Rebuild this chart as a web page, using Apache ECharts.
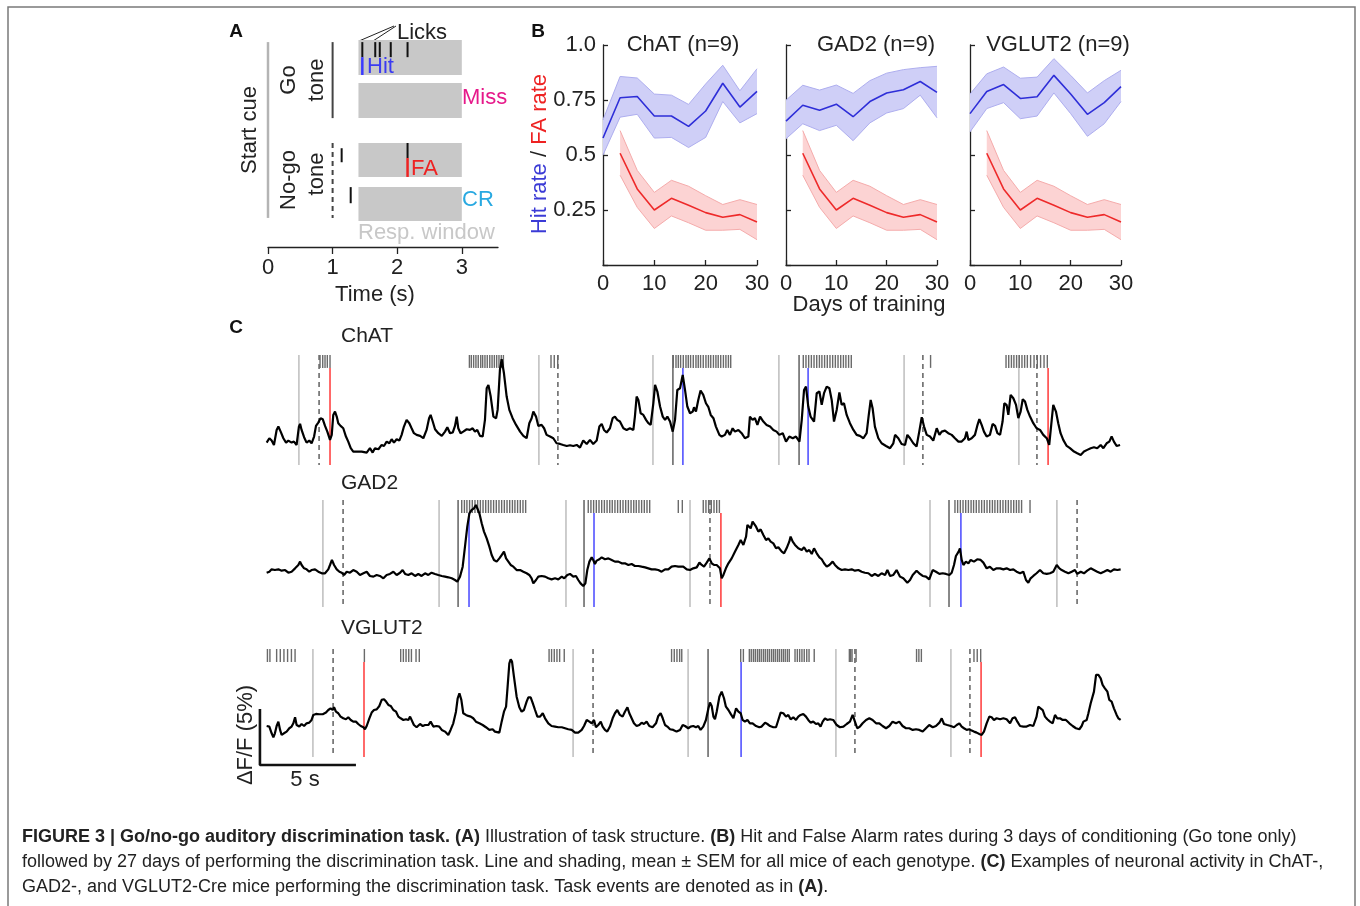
<!DOCTYPE html>
<html>
<head>
<meta charset="utf-8">
<title>Figure 3 - Go/no-go task</title>
<script src="https://cdn.jsdelivr.net/npm/echarts@6.0.0/dist/echarts.min.js"></script>
<style>
  html, body { margin: 0; padding: 0; background: #fff; }
  #fig { width: 1360px; height: 906px; }
</style>
</head>
<body>
<div id="fig"></div>
<script>
// ---------- panel A : task structure (time in s, rows in trial units) ----------
var respWindow = [1.4, 3.0];
var trialRows = [[0, 1], [1.23, 2.23], [2.94, 3.91], [4.2, 5.17]];
var aToneTime = 1.0;
var aLickTimes = [1.46, 1.66, 1.73, 1.90, 2.16];
var aHitTime = 1.46;
var aFaTime = 2.16;
var aNogoEarlyLick = 1.14;
var aCrEarlyLick = 1.28;
var aTicks = [0, 1, 2, 3];

// ---------- panel B : hit / FA rates ----------
var days = [0, 3.33, 6.67, 10, 13.33, 16.67, 20, 23.33, 26.67, 30];
var faDays = [3.33, 6.67, 10, 13.33, 16.67, 20, 23.33, 26.67, 30];

var chatHitRate = [0.577, 0.76, 0.766, 0.677, 0.677, 0.63, 0.70, 0.826, 0.718, 0.789];
var chatHitHi   = [0.66, 0.857, 0.85, 0.777, 0.772, 0.73, 0.823, 0.908, 0.792, 0.892];
var chatHitLo   = [0.50, 0.672, 0.685, 0.577, 0.58, 0.534, 0.58, 0.743, 0.646, 0.688];
var chatFaRate  = [0.508, 0.346, 0.25, 0.303, 0.272, 0.238, 0.217, 0.229, 0.195];
var chatFaHi    = [0.611, 0.43, 0.33, 0.385, 0.358, 0.315, 0.275, 0.297, 0.275];
var chatFaLo    = [0.408, 0.262, 0.166, 0.223, 0.192, 0.158, 0.158, 0.162, 0.115];

var gad2HitRate = [0.654, 0.726, 0.703, 0.731, 0.674, 0.743, 0.782, 0.797, 0.834, 0.785];
var gad2HitHi   = [0.749, 0.817, 0.795, 0.818, 0.78, 0.838, 0.872, 0.888, 0.897, 0.903];
var gad2HitLo   = [0.574, 0.642, 0.611, 0.635, 0.565, 0.646, 0.691, 0.711, 0.772, 0.669];
var gad2FaRate  = [0.508, 0.346, 0.25, 0.303, 0.272, 0.238, 0.217, 0.229, 0.195];
var gad2FaHi    = [0.611, 0.43, 0.33, 0.385, 0.358, 0.315, 0.275, 0.297, 0.275];
var gad2FaLo    = [0.408, 0.262, 0.166, 0.223, 0.192, 0.158, 0.158, 0.162, 0.115];

var vglutHitRate = [0.688, 0.789, 0.82, 0.757, 0.765, 0.862, 0.777, 0.685, 0.738, 0.811];
var vglutHitHi   = [0.777, 0.869, 0.9, 0.849, 0.854, 0.938, 0.862, 0.782, 0.838, 0.885];
var vglutHitLo   = [0.605, 0.711, 0.738, 0.665, 0.677, 0.782, 0.688, 0.585, 0.642, 0.743];
var vglutFaRate  = [0.508, 0.346, 0.25, 0.303, 0.272, 0.238, 0.217, 0.229, 0.195];
var vglutFaHi    = [0.611, 0.43, 0.33, 0.385, 0.358, 0.315, 0.275, 0.297, 0.275];
var vglutFaLo    = [0.408, 0.262, 0.166, 0.223, 0.192, 0.158, 0.158, 0.162, 0.115];

// ---------- panel C : example traces, [time s, dF/F %] ----------
var chatTrace = [[-0.07,0.95],[0.07,1.34],[0.19,1.13],[0.31,0.74],[0.45,2.08],[0.54,2.38],[0.66,1.93],[0.80,1.34],[0.94,0.95],[1.06,1.13],[1.23,0.95],[1.35,1.04],[1.49,0.74],[1.61,2.38],[1.67,2.62],[1.75,2.08],[1.88,1.43],[2.01,0.95],[2.15,1.13],[2.27,0.89],[2.40,1.49],[2.50,2.44],[2.62,2.74],[2.74,3.13],[2.85,3.04],[2.97,2.44],[3.09,1.93],[3.23,1.19],[3.32,1.64],[3.40,3.42],[3.49,3.72],[3.58,3.27],[3.66,2.68],[3.78,2.44],[3.92,2.23],[4.06,1.49],[4.18,1.04],[4.31,0.45],[4.44,0.15],[4.62,0.15],[4.88,0.15],[5.14,0.06],[5.31,0.45],[5.45,0.06],[5.57,0.45],[5.75,0.36],[5.92,0.74],[6.04,0.65],[6.18,1.04],[6.32,0.89],[6.44,1.25],[6.56,0.95],[6.70,1.25],[6.84,1.13],[6.96,1.64],[7.08,2.38],[7.22,2.98],[7.36,2.68],[7.48,2.23],[7.60,1.79],[7.74,1.64],[7.92,1.55],[8.09,1.34],[8.26,2.08],[8.39,3.13],[8.47,3.42],[8.58,2.83],[8.70,2.14],[8.87,1.79],[9.05,1.55],[9.22,1.93],[9.34,2.32],[9.48,1.79],[9.62,1.85],[9.74,2.44],[9.83,3.27],[9.91,2.23],[10.03,1.79],[10.17,1.93],[10.35,2.14],[10.52,2.08],[10.66,2.23],[10.78,1.93],[10.90,2.08],[11.04,1.55],[11.18,1.49],[11.30,2.98],[11.39,5.80],[11.48,6.10],[11.60,5.06],[11.74,3.27],[11.88,3.13],[11.96,3.87],[12.08,7.44],[12.17,8.39],[12.29,7.14],[12.43,5.06],[12.57,3.87],[12.74,3.13],[12.92,2.53],[13.13,1.93],[13.30,1.55],[13.47,1.34],[13.61,2.68],[13.73,3.13],[13.82,3.72],[13.96,3.27],[14.08,2.44],[14.25,2.53],[14.38,2.23],[14.51,1.64],[14.69,1.49],[14.86,1.34],[15.03,0.89],[15.21,0.83],[15.38,0.74],[15.56,0.65],[15.73,0.71],[15.90,0.65],[16.08,0.74],[16.25,0.51],[16.42,1.13],[16.60,0.83],[16.77,1.19],[16.94,0.83],[17.12,1.13],[17.26,2.38],[17.38,2.62],[17.50,2.08],[17.64,1.85],[17.81,2.23],[17.95,3.13],[18.07,3.27],[18.19,2.98],[18.33,2.83],[18.51,2.23],[18.68,2.08],[18.85,2.23],[19.03,2.08],[19.11,3.27],[19.20,5.06],[19.29,4.76],[19.41,3.57],[19.55,3.42],[19.69,2.98],[19.81,2.68],[19.93,2.53],[20.07,4.46],[20.16,6.10],[20.28,5.51],[20.42,4.17],[20.56,3.27],[20.68,2.98],[20.80,3.27],[20.94,2.83],[21.08,1.93],[21.20,2.98],[21.32,5.65],[21.46,5.80],[21.60,6.99],[21.72,5.65],[21.84,4.17],[21.98,3.57],[22.12,3.72],[22.19,4.11],[22.29,3.72],[22.41,4.76],[22.53,5.60],[22.67,5.21],[22.81,4.46],[22.94,4.11],[23.06,3.42],[23.20,3.13],[23.33,2.38],[23.51,1.64],[23.63,1.49],[23.80,1.64],[23.92,2.08],[24.06,1.64],[24.20,2.23],[24.32,1.93],[24.50,2.08],[24.67,1.79],[24.84,1.34],[25.02,1.49],[25.10,3.27],[25.24,2.98],[25.36,3.13],[25.49,2.53],[25.63,3.27],[25.80,2.83],[25.97,2.53],[26.15,2.38],[26.32,2.08],[26.49,1.93],[26.63,1.64],[26.81,1.79],[26.98,1.04],[27.15,1.49],[27.33,1.34],[27.50,1.49],[27.68,1.04],[27.80,2.98],[27.92,5.65],[28.02,5.95],[28.14,4.17],[28.26,3.27],[28.44,2.83],[28.58,5.36],[28.72,5.51],[28.84,4.32],[28.96,5.36],[29.10,5.95],[29.24,5.80],[29.36,4.76],[29.48,2.83],[29.62,3.87],[29.76,5.42],[29.88,4.32],[30.00,4.46],[30.14,3.42],[30.31,2.68],[30.49,2.08],[30.66,1.64],[30.83,1.55],[31.01,1.34],[31.18,1.79],[31.28,3.27],[31.39,4.76],[31.49,4.02],[31.61,2.38],[31.79,1.34],[31.96,0.89],[32.19,0.65],[32.40,0.45],[32.57,0.89],[32.66,1.64],[32.83,1.34],[33.00,0.83],[33.18,0.74],[33.30,1.64],[33.44,1.34],[33.61,0.89],[33.78,0.60],[33.92,1.93],[34.05,3.21],[34.17,2.38],[34.31,1.64],[34.48,1.49],[34.65,1.13],[34.83,2.23],[34.97,1.64],[35.09,1.93],[35.26,2.02],[35.43,1.79],[35.61,1.64],[35.78,1.34],[35.96,1.04],[36.13,1.04],[36.30,1.34],[36.39,1.93],[36.48,1.19],[36.65,1.34],[36.82,1.64],[36.94,2.44],[37.05,3.04],[37.17,2.53],[37.29,1.93],[37.43,1.49],[37.60,1.64],[37.74,2.62],[37.87,2.44],[37.99,1.79],[38.13,1.64],[38.26,2.83],[38.35,4.46],[38.47,4.32],[38.56,3.42],[38.68,5.21],[38.82,4.91],[38.96,4.32],[39.08,3.13],[39.20,3.72],[39.31,4.82],[39.43,4.61],[39.55,3.87],[39.69,3.27],[39.86,2.68],[40.03,2.23],[40.21,2.08],[40.38,1.64],[40.56,1.34],[40.69,0.74],[40.82,2.98],[40.90,4.32],[41.04,3.72],[41.16,2.68],[41.28,1.79],[41.42,1.19],[41.60,0.65],[41.77,0.45],[41.98,0.15],[42.15,0.00],[42.33,-0.15],[42.50,0.15],[42.67,0.30],[42.85,0.45],[43.02,0.54],[43.19,0.45],[43.37,0.74],[43.51,0.45],[43.68,0.89],[43.82,1.04],[43.94,1.49],[44.06,1.04],[44.20,0.65],[44.38,0.74]];

var gad2Trace = [[-0.07,0.65],[0.07,0.74],[0.19,0.95],[0.36,0.89],[0.54,0.95],[0.71,0.83],[0.89,0.89],[1.06,0.65],[1.23,0.74],[1.41,1.04],[1.58,1.34],[1.67,1.64],[1.75,1.34],[1.88,1.04],[2.01,0.95],[2.15,0.74],[2.27,0.89],[2.45,0.95],[2.62,0.74],[2.80,0.60],[2.97,0.60],[3.14,0.95],[3.23,1.34],[3.33,1.79],[3.44,1.34],[3.58,0.95],[3.72,0.74],[3.84,0.65],[3.96,0.45],[4.10,0.74],[4.27,0.65],[4.44,0.89],[4.62,0.74],[4.79,0.45],[4.97,0.60],[5.14,0.74],[5.31,0.36],[5.49,0.30],[5.66,0.45],[5.83,0.36],[6.01,0.15],[6.18,0.45],[6.35,0.54],[6.53,0.74],[6.70,0.45],[6.88,0.65],[7.01,0.89],[7.14,0.54],[7.31,0.45],[7.48,0.60],[7.66,0.36],[7.83,0.54],[8.00,0.36],[8.18,0.60],[8.35,0.45],[8.52,0.65],[8.70,0.54],[8.87,0.45],[9.05,0.36],[9.22,0.30],[9.39,0.24],[9.57,0.15],[9.74,0.00],[9.86,-0.15],[10.00,0.30],[10.14,1.19],[10.26,2.98],[10.38,4.76],[10.49,5.95],[10.61,6.25],[10.73,6.40],[10.83,6.70],[10.90,6.40],[11.01,5.95],[11.13,5.06],[11.25,4.32],[11.39,3.72],[11.53,2.98],[11.65,2.23],[11.77,1.79],[11.91,1.64],[12.05,1.93],[12.17,2.23],[12.29,2.53],[12.40,1.93],[12.52,1.64],[12.64,1.34],[12.78,1.19],[12.95,0.89],[13.13,0.89],[13.30,0.74],[13.47,0.60],[13.61,0.45],[13.73,0.15],[13.82,-0.30],[13.96,0.00],[14.08,0.30],[14.25,0.36],[14.43,0.30],[14.60,0.15],[14.77,0.06],[14.95,0.15],[15.12,0.06],[15.30,0.30],[15.43,0.15],[15.59,0.45],[15.73,0.54],[15.90,0.30],[16.04,0.36],[16.16,0.00],[16.28,-0.30],[16.42,-0.54],[16.53,-0.30],[16.63,0.89],[16.74,1.64],[16.86,2.02],[16.94,1.79],[17.03,1.43],[17.12,1.73],[17.26,1.85],[17.38,2.02],[17.55,1.85],[17.73,1.93],[17.90,1.79],[18.07,1.64],[18.25,1.64],[18.42,1.49],[18.59,1.49],[18.77,1.34],[18.94,1.43],[19.11,1.25],[19.29,1.25],[19.46,1.19],[19.64,1.13],[19.81,1.04],[19.98,0.95],[20.16,0.95],[20.33,0.89],[20.50,0.74],[20.68,0.95],[20.85,0.95],[21.02,1.19],[21.20,1.25],[21.37,1.19],[21.46,1.13],[21.63,1.19],[21.81,0.95],[21.98,0.89],[22.15,1.04],[22.33,1.13],[22.47,1.55],[22.59,1.34],[22.71,1.19],[22.85,1.55],[22.99,1.93],[23.11,1.49],[23.23,1.34],[23.37,1.34],[23.54,1.04],[23.63,0.15],[23.72,0.45],[23.85,1.04],[23.98,1.49],[24.15,1.93],[24.32,2.53],[24.50,3.13],[24.62,3.57],[24.76,3.13],[24.90,3.87],[24.97,4.91],[25.07,5.06],[25.14,4.61],[25.24,5.21],[25.31,5.36],[25.42,4.76],[25.54,4.32],[25.66,4.52],[25.80,4.02],[25.94,3.57],[26.06,3.72],[26.18,3.42],[26.32,3.27],[26.46,2.83],[26.58,2.92],[26.76,2.53],[26.88,2.38],[27.01,2.83],[27.15,3.42],[27.22,3.87],[27.33,3.42],[27.45,3.13],[27.62,2.83],[27.80,2.68],[27.92,2.92],[28.06,2.53],[28.19,2.68],[28.32,2.32],[28.44,2.83],[28.58,2.38],[28.72,2.02],[28.84,1.85],[28.96,1.49],[29.10,1.19],[29.24,1.34],[29.41,1.64],[29.53,1.34],[29.71,1.04],[29.88,0.89],[30.05,0.95],[30.23,0.89],[30.40,0.95],[30.57,0.83],[30.75,0.89],[30.92,0.74],[31.09,0.65],[31.27,0.60],[31.44,0.36],[31.61,0.54],[31.79,0.36],[31.96,0.60],[32.14,0.45],[32.26,0.89],[32.40,0.36],[32.57,0.45],[32.74,0.89],[32.92,0.30],[33.09,0.15],[33.30,-0.24],[33.44,0.00],[33.58,0.45],[33.78,0.83],[33.92,0.60],[34.10,0.36],[34.27,0.30],[34.44,0.06],[34.62,0.89],[34.79,0.74],[34.97,0.54],[35.14,0.60],[35.31,0.54],[35.49,0.45],[35.61,0.65],[35.73,1.34],[35.83,2.14],[35.97,2.53],[36.04,2.83],[36.13,1.79],[36.22,1.34],[36.35,1.64],[36.48,1.49],[36.60,1.79],[36.77,1.64],[36.94,1.85],[37.12,1.79],[37.26,1.55],[37.43,1.04],[37.60,1.19],[37.78,0.89],[37.95,1.04],[38.13,1.04],[38.30,0.95],[38.47,1.04],[38.65,0.89],[38.82,0.95],[38.99,0.74],[39.17,0.60],[39.34,0.74],[39.48,0.00],[39.60,-0.24],[39.72,0.15],[39.86,0.36],[40.03,0.60],[40.21,0.89],[40.38,0.60],[40.56,0.54],[40.73,0.60],[40.90,0.74],[41.08,1.34],[41.22,1.04],[41.34,0.89],[41.51,0.74],[41.69,0.60],[41.86,0.74],[42.03,0.89],[42.15,0.54],[42.33,0.74],[42.50,0.60],[42.67,0.83],[42.85,1.04],[43.02,0.89],[43.19,0.74],[43.37,0.60],[43.54,0.74],[43.72,0.89],[43.89,0.74],[44.06,0.95],[44.24,0.89],[44.41,0.95]];

var vglutTrace = [[-0.07,0.65],[0.07,0.60],[0.19,0.00],[0.28,-0.36],[0.36,0.00],[0.45,0.65],[0.54,1.04],[0.63,0.30],[0.71,-0.15],[0.83,0.00],[0.97,0.15],[1.11,0.45],[1.23,0.60],[1.32,0.89],[1.41,1.43],[1.49,0.74],[1.63,0.60],[1.75,0.83],[1.88,0.65],[2.01,0.89],[2.15,0.95],[2.27,1.19],[2.36,1.64],[2.50,1.73],[2.67,1.70],[2.85,1.70],[3.02,1.85],[3.14,2.08],[3.26,2.23],[3.37,2.08],[3.44,2.32],[3.54,1.93],[3.66,1.79],[3.78,1.49],[3.92,1.34],[4.06,1.25],[4.18,1.43],[4.31,1.19],[4.44,1.04],[4.58,1.04],[4.70,0.83],[4.83,0.65],[4.97,0.54],[5.05,0.36],[5.14,0.65],[5.28,1.34],[5.40,1.85],[5.52,2.08],[5.66,2.14],[5.80,2.44],[5.92,2.98],[6.04,3.04],[6.15,2.83],[6.27,2.53],[6.39,2.44],[6.53,2.08],[6.67,1.93],[6.79,1.49],[6.91,1.34],[7.05,1.19],[7.19,1.25],[7.31,1.19],[7.40,1.49],[7.48,1.34],[7.60,0.74],[7.74,0.54],[7.92,0.83],[8.06,0.65],[8.18,0.74],[8.35,0.74],[8.47,1.04],[8.61,0.60],[8.78,0.65],[8.92,0.60],[9.05,0.30],[9.22,0.15],[9.39,-0.15],[9.51,0.30],[9.65,0.89],[9.79,1.93],[9.88,3.13],[9.97,3.57],[10.07,2.98],[10.17,1.79],[10.31,1.64],[10.43,1.55],[10.56,1.49],[10.69,1.34],[10.83,1.04],[11.01,0.89],[11.18,0.74],[11.35,0.54],[11.53,0.30],[11.70,0.36],[11.82,0.15],[12.05,0.06],[12.17,1.04],[12.29,1.93],[12.40,2.38],[12.48,4.17],[12.57,6.25],[12.64,6.61],[12.71,6.40],[12.81,5.06],[12.95,3.27],[13.09,2.32],[13.21,1.93],[13.33,2.08],[13.47,2.83],[13.56,3.21],[13.68,3.21],[13.78,2.74],[13.91,2.08],[14.03,1.49],[14.17,1.49],[14.31,1.79],[14.43,1.34],[14.60,0.89],[14.77,0.65],[14.95,0.60],[15.12,0.54],[15.30,0.54],[15.47,0.45],[15.64,0.36],[15.82,0.30],[15.99,0.06],[16.16,0.06],[16.34,0.30],[16.46,0.65],[16.60,1.19],[16.74,1.04],[16.86,0.89],[16.98,1.19],[17.08,0.54],[17.20,0.74],[17.33,1.04],[17.43,0.60],[17.55,0.30],[17.67,0.15],[17.81,0.60],[17.95,1.34],[18.07,1.79],[18.19,2.08],[18.33,1.64],[18.47,1.49],[18.59,1.93],[18.72,2.32],[18.82,1.79],[18.94,1.34],[19.06,0.89],[19.20,0.65],[19.34,0.74],[19.46,0.95],[19.58,0.83],[19.72,1.04],[19.86,0.65],[20.03,0.54],[20.21,0.89],[20.33,1.55],[20.45,1.79],[20.56,1.34],[20.68,0.74],[20.80,0.60],[20.94,0.36],[21.11,0.30],[21.28,0.15],[21.46,0.30],[21.60,0.74],[21.72,0.65],[21.89,0.45],[22.01,0.60],[22.15,0.65],[22.29,0.54],[22.41,0.65],[22.53,0.30],[22.67,0.60],[22.81,1.19],[22.94,2.23],[23.02,2.74],[23.11,2.44],[23.20,1.49],[23.28,1.25],[23.37,1.93],[23.51,3.27],[23.63,3.72],[23.75,3.13],[23.85,2.38],[23.98,2.08],[24.10,1.73],[24.24,1.34],[24.38,2.23],[24.50,1.93],[24.62,1.79],[24.72,1.19],[24.84,1.04],[24.97,1.19],[25.10,0.89],[25.24,0.89],[25.42,0.65],[25.59,0.54],[25.71,0.60],[25.89,0.95],[26.01,0.83],[26.15,0.65],[26.32,0.54],[26.46,0.54],[26.58,1.19],[26.70,1.85],[26.84,1.79],[26.98,1.49],[27.10,1.64],[27.22,1.25],[27.36,1.43],[27.50,1.19],[27.62,1.49],[27.74,1.64],[27.88,1.73],[28.02,1.49],[28.14,1.19],[28.26,0.95],[28.40,1.04],[28.54,0.83],[28.66,0.89],[28.78,0.60],[28.89,1.04],[29.01,1.34],[29.13,1.19],[29.27,1.25],[29.44,1.19],[29.62,0.74],[29.79,0.54],[29.97,0.60],[30.14,0.83],[30.31,1.04],[30.45,1.64],[30.57,1.04],[30.69,0.45],[30.83,0.60],[30.97,0.89],[31.15,1.19],[31.32,1.34],[31.49,1.19],[31.67,0.89],[31.84,0.89],[32.01,0.65],[32.19,0.45],[32.36,0.65],[32.53,1.04],[32.71,0.89],[32.88,1.04],[33.05,0.65],[33.23,0.45],[33.40,0.45],[33.58,0.30],[33.75,0.36],[33.92,0.30],[34.10,0.15],[34.27,0.45],[34.44,0.74],[34.62,0.54],[34.79,0.65],[34.97,0.95],[35.09,1.34],[35.21,0.83],[35.38,0.74],[35.56,0.65],[35.73,0.54],[35.87,0.74],[36.01,0.89],[36.13,0.60],[36.25,0.45],[36.39,0.30],[36.53,0.36],[36.65,0.24],[36.77,0.15],[36.91,0.06],[37.05,-0.06],[37.17,-0.15],[37.29,0.15],[37.43,0.89],[37.57,1.49],[37.69,1.43],[37.81,1.19],[37.95,1.34],[38.13,1.25],[38.30,1.34],[38.47,1.25],[38.65,0.89],[38.78,1.34],[38.91,1.43],[39.03,1.04],[39.17,0.65],[39.34,0.60],[39.51,0.60],[39.69,0.74],[39.86,0.65],[40.03,1.49],[40.12,2.38],[40.21,2.53],[40.35,2.08],[40.47,1.49],[40.59,1.25],[40.73,1.04],[40.87,0.89],[40.99,1.64],[41.11,1.34],[41.25,1.34],[41.39,1.19],[41.56,1.19],[41.74,0.89],[41.91,0.65],[42.08,0.45],[42.26,0.36],[42.38,0.65],[42.47,1.04],[42.55,1.19],[42.64,1.19],[42.73,1.79],[42.85,2.68],[42.95,2.83],[43.02,3.72],[43.13,5.21],[43.25,5.21],[43.37,4.91],[43.47,4.32],[43.59,4.02],[43.72,3.72],[43.82,2.98],[43.94,2.83],[44.06,2.23],[44.20,1.64],[44.29,1.34],[44.41,1.19]];

// task events (s)
var chatCue = [1.61, 14.11, 20.05, 26.61, 33.13, 39.11];
var chatGo = [21.09, 27.66];
var chatNogo = [2.66, 15.10, 34.11, 40.05];
var chatHitEv = [21.61, 28.13];
var chatFaEv = [3.23, 40.63];
var chatLicks = [2.71, 2.85, 2.97, 3.09, 3.23,
  10.49, 10.59, 10.71, 10.83, 10.95, 11.08, 11.18, 11.30, 11.42, 11.55, 11.67, 11.79, 11.91, 12.03, 12.15, 12.26,
  14.74, 14.91, 15.09,
  21.11, 21.25, 21.37, 21.49, 21.63, 21.77, 21.89, 22.01, 22.15, 22.29, 22.41, 22.53, 22.67, 22.81, 22.94, 23.06, 23.20, 23.33, 23.45, 23.58, 23.72, 23.85, 23.98, 24.10,
  27.88, 28.02, 28.16, 28.30, 28.44, 28.58, 28.72, 28.85, 28.99, 29.13, 29.27, 29.41, 29.55, 29.69, 29.83, 29.97, 30.10, 30.24, 30.38,
  34.51,
  38.44, 38.58, 38.72, 38.85, 38.99, 39.13, 39.27, 39.41, 39.55, 39.72, 39.90, 40.07, 40.24, 40.42, 40.59];

var gad2Cue = [2.86, 8.91, 15.52, 21.98, 34.48, 41.09];
var gad2Go = [9.90, 16.46, 35.47];
var gad2Nogo = [3.91, 23.02, 42.14];
var gad2HitEv = [10.47, 16.98, 36.09];
var gad2FaEv = [23.59];
var gad2Licks = [10.09, 10.23, 10.36, 10.50, 10.64, 10.78, 10.92, 11.06, 11.20, 11.34, 11.48, 11.61, 11.75, 11.89, 12.03, 12.17, 12.31, 12.45, 12.59, 12.73, 12.86, 13.00, 13.14, 13.28, 13.42,
  16.68, 16.82, 16.96, 17.10, 17.24, 17.38, 17.52, 17.66, 17.80, 17.93, 18.07, 18.21, 18.35, 18.49, 18.63, 18.77, 18.91, 19.05, 19.18, 19.32, 19.46, 19.60, 19.74, 19.88,
  21.37, 21.58,
  22.67, 22.81, 22.95, 23.09, 23.23, 23.37, 23.51,
  35.78, 35.92, 36.06, 36.20, 36.34, 36.48, 36.62, 36.75, 36.89, 37.03, 37.17, 37.31, 37.45, 37.59, 37.73, 37.86, 38.00, 38.14, 38.28, 38.42, 38.56, 38.70, 38.84, 38.98, 39.11, 39.25, 39.69];

var vglutCue = [2.34, 15.89, 21.88, 29.58, 35.57];
var vglutGo = [22.92];
var vglutNogo = [3.39, 16.93, 30.57, 36.56];
var vglutHitEv = [24.64];
var vglutFaEv = [5.00, 37.14];
var vglutLicks = [-0.03, 0.10, 0.45, 0.64, 0.83, 1.02, 1.22, 1.41,
  5.02,
  6.91, 7.05, 7.19, 7.33, 7.47, 7.71, 7.88,
  14.64, 14.77, 14.91, 15.05, 15.19, 15.43,
  21.02, 21.16, 21.30, 21.44, 21.55,
  24.62, 24.76, 25.07, 25.17, 25.28, 25.38, 25.49, 25.59, 25.69, 25.80, 25.90, 26.01, 26.11, 26.22, 26.32, 26.42, 26.53, 26.63, 26.74, 26.84, 26.94, 27.05, 27.15, 27.45, 27.57, 27.69, 27.81, 27.93, 28.06, 28.18, 28.45,
  30.28, 30.35, 30.42, 30.63,
  33.78, 33.90, 34.03,
  36.77, 36.94, 37.12];

var scaleSec = 5;
var scalePct = 5;

// ---------------------------------------------------------------
var FF = '"Liberation Sans", Arial, Helvetica, sans-serif';
var fig = echarts.init(document.getElementById('fig'));

var grids = [], xAxes = [], yAxes = [], series = [];

function segs(gi, data, stroke, width, dash) {
  return {
    type: 'custom', xAxisIndex: gi, yAxisIndex: gi, silent: true, clip: false,
    data: data, encode: { x: [0, 2], y: [1, 3] },
    renderItem: function (params, api) {
      var a = api.coord([api.value(0), api.value(1)]);
      var b = api.coord([api.value(2), api.value(3)]);
      return { type: 'line', shape: { x1: a[0], y1: a[1], x2: b[0], y2: b[1] },
        style: { stroke: stroke, lineWidth: width, lineDash: dash || null } };
    }
  };
}

function rects(gi, data, fill) {
  return {
    type: 'custom', xAxisIndex: gi, yAxisIndex: gi, silent: true, clip: false,
    data: data, encode: { x: [0, 2], y: [1, 3] },
    renderItem: function (params, api) {
      var a = api.coord([api.value(0), api.value(1)]);
      var b = api.coord([api.value(2), api.value(3)]);
      return { type: 'rect', shape: { x: a[0], y: Math.min(a[1], b[1]), width: b[0] - a[0], height: Math.abs(b[1] - a[1]) },
        style: { fill: fill } };
    }
  };
}

function vlines(times, top, bottom) {
  return times.map(function (t) { return [t, top, t, bottom]; });
}

// ---- panel A grid ----
grids.push({ left: 268, top: 40, width: 230, height: 207 });
xAxes.push({ gridIndex: 0, type: 'value', min: 0, max: 3.56, interval: 1,
  axisLine: { onZero: false, lineStyle: { color: '#222', width: 1.3 } },
  axisTick: { length: 7, customValues: aTicks, lineStyle: { color: '#222', width: 1.3 } },
  axisLabel: { fontSize: 22, color: '#222', fontFamily: FF, margin: 10, customValues: aTicks },
  splitLine: { show: false } });
yAxes.push({ gridIndex: 0, type: 'value', min: 0, max: 5.91, inverse: true, show: false });

series.push(rects(0, trialRows.map(function (r) { return [respWindow[0], r[0], respWindow[1], r[1]]; }), '#c8c8c8'));
series.push(segs(0, [[0, 0.06, 0, 5.08]], '#b4b4b4', 2.5));
series.push(segs(0, [[aToneTime, 0.06, aToneTime, trialRows[1][1]]], '#444', 2));
series.push(segs(0, [[aToneTime, trialRows[2][0], aToneTime, 5.08]], '#444', 2, [5, 4]));
series.push(segs(0, aLickTimes.map(function (t) { return [t, 0.06, t, 0.49]; })
  .concat([[aFaTime, trialRows[2][0], aFaTime, 3.37],
           [aNogoEarlyLick, 3.09, aNogoEarlyLick, 3.49],
           [aCrEarlyLick, trialRows[3][0], aCrEarlyLick, 4.66]]), '#111', 2));
series.push(segs(0, [[aHitTime, 0.49, aHitTime, trialRows[0][1]]], '#3a3aff', 2.5));
series.push(segs(0, [[aFaTime, 3.37, aFaTime, trialRows[2][1]]], '#ee2222', 2.5));

// ---- panel B grids ----
var bGrids = [
  { left: 603, width: 154, hit: chatHitRate, hitLo: chatHitLo, hitHi: chatHitHi, fa: chatFaRate, faLo: chatFaLo, faHi: chatFaHi, labels: true },
  { left: 786, width: 151, hit: gad2HitRate, hitLo: gad2HitLo, hitHi: gad2HitHi, fa: gad2FaRate, faLo: gad2FaLo, faHi: gad2FaHi, labels: false },
  { left: 970, width: 151, hit: vglutHitRate, hitLo: vglutHitLo, hitHi: vglutHitHi, fa: vglutFaRate, faLo: vglutFaLo, faHi: vglutFaHi, labels: false }
];

// shaded SEM band: polygon through the upper bound then back along the lower bound
function band(gi, xs, lo, hi, fill, edge) {
  var poly = {
    type: 'custom', xAxisIndex: gi, yAxisIndex: gi, silent: true, z: 1,
    data: [[xs[0], lo[0]]],
    renderItem: function (params, api) {
      var pts = [], i;
      for (i = 0; i < xs.length; i++) pts.push(api.coord([xs[i], hi[i]]));
      for (i = xs.length - 1; i >= 0; i--) pts.push(api.coord([xs[i], lo[i]]));
      return { type: 'polygon', shape: { points: pts }, style: { fill: fill } };
    }
  };
  function edgeLine(vals) {
    return { type: 'line', xAxisIndex: gi, yAxisIndex: gi, symbol: 'none', silent: true, z: 2,
      lineStyle: { color: edge, width: 1 }, data: xs.map(function (x, i) { return [x, vals[i]]; }) };
  }
  return [poly, edgeLine(lo), edgeLine(hi)];
}

bGrids.forEach(function (b, k) {
  var gi = 1 + k;
  grids.push({ left: b.left, top: 45, width: b.width, height: 220 });
  xAxes.push({ gridIndex: gi, type: 'value', min: 0, max: 30, interval: 10,
    axisLine: { onZero: false, lineStyle: { color: '#222', width: 1.3 } },
    axisTick: { inside: true, length: 5, lineStyle: { color: '#222', width: 1.3 } },
    axisLabel: { fontSize: 22, color: '#222', fontFamily: FF, margin: 8, showMinLabel: true, showMaxLabel: true },
    splitLine: { show: false } });
  yAxes.push({ gridIndex: gi, type: 'value', min: 0, max: 1, interval: 0.25,
    axisLine: { show: true, onZero: false, lineStyle: { color: '#222', width: 1.3 } },
    axisTick: { show: true, inside: true, length: 5, lineStyle: { color: '#222', width: 1.3 } },
    axisLabel: { show: b.labels, fontSize: 22, color: '#222', fontFamily: FF, margin: 7,
      formatter: function (v) { return v === 0 ? '' : (v === 1 ? '1.0' : String(v)); } },
    splitLine: { show: false } });
  series = series.concat(band(gi, days, b.hitLo, b.hitHi, '#cfcff7', '#aeaeef'));
  series = series.concat(band(gi, faDays, b.faLo, b.faHi, '#fcd3d3', '#f5abab'));
  series.push({ type: 'line', xAxisIndex: gi, yAxisIndex: gi, symbol: 'none', silent: true, z: 3,
    lineStyle: { color: '#2e2ed8', width: 1.6 }, data: days.map(function (d, i) { return [d, b.hit[i]]; }) });
  series.push({ type: 'line', xAxisIndex: gi, yAxisIndex: gi, symbol: 'none', silent: true, z: 3,
    lineStyle: { color: '#ee2a2a', width: 1.6 }, data: faDays.map(function (d, i) { return [d, b.fa[i]]; }) });
});

// ---- panel C grids ----
var cGrids = [
  { top: 355, height: 110, min: -1.05, max: 8.77, lineTop: 8.77, lickBot: 7.62, lineBot: -1.04,
    trace: chatTrace, cue: chatCue, go: chatGo, nogo: chatNogo, hit: chatHitEv, fa: chatFaEv, licks: chatLicks },
  { top: 500, height: 107, min: -2.41, max: 7.14, lineTop: 7.14, lickBot: 5.98, lineBot: -2.41,
    trace: gad2Trace, cue: gad2Cue, go: gad2Go, nogo: gad2Nogo, hit: gad2HitEv, fa: gad2FaEv, licks: gad2Licks },
  { top: 649, height: 121, min: -3.28, max: 7.53, lineTop: 7.53, lickBot: 6.37, lineBot: -2.12,
    trace: vglutTrace, cue: vglutCue, go: vglutGo, nogo: vglutNogo, hit: vglutHitEv, fa: vglutFaEv, licks: vglutLicks }
];

cGrids.forEach(function (c, k) {
  var gi = 4 + k;
  grids.push({ left: 258.4, width: 865.9, top: c.top, height: c.height });
  xAxes.push({ gridIndex: gi, type: 'value', min: -0.5, max: 44.6, show: false });
  yAxes.push({ gridIndex: gi, type: 'value', min: c.min, max: c.max, show: false });
  series.push(segs(gi, vlines(c.cue, c.lineTop, c.lineBot), '#b8b8b8', 1.4));
  series.push(segs(gi, vlines(c.go, c.lineTop, c.lineBot), '#555', 1.4));
  series.push(segs(gi, vlines(c.nogo, c.lineTop, c.lineBot), '#555', 1.4, [5, 4]));
  series.push(segs(gi, vlines(c.licks, c.lineTop, c.lickBot), '#6a6a6a', 1.4));
  series.push(segs(gi, vlines(c.hit, c.lickBot, c.lineBot), '#3a3aff', 1.4));
  series.push(segs(gi, vlines(c.fa, c.lickBot, c.lineBot), '#ff2a2a', 1.4));
  series.push({ type: 'line', xAxisIndex: gi, yAxisIndex: gi, symbol: 'none', silent: true, z: 5,
    lineStyle: { color: '#000', width: 2.2 }, data: c.trace });
});

// scale bar (in VGLUT2 grid)
var sbOrigin = [-0.42, -2.83];
series.push({ type: 'line', xAxisIndex: 6, yAxisIndex: 6, symbol: 'none', silent: true, clip: false,
  lineStyle: { color: '#111', width: 2.6 },
  data: [[sbOrigin[0] + scaleSec, sbOrigin[1]], sbOrigin, [sbOrigin[0], sbOrigin[1] + scalePct]] });

// ---- texts ----
function txt(x, y, s, o) {
  o = o || {};
  return { type: 'text', x: x, y: y, rotation: o.rot || 0, scaleX: o.sx || 1, silent: true, z: 10,
    style: { text: s, fill: o.color || '#222', fontSize: o.size || 22, fontFamily: FF,
      fontWeight: o.weight || 'normal', textAlign: o.align || 'left', textVerticalAlign: 'middle',
      rich: o.rich } };
}

var R = Math.PI / 2;
var capRich = { b: { fontWeight: 'bold', fontSize: 18, fontFamily: FF, fill: '#222' } };
var graphics = [
  { type: 'rect', shape: { x: 8, y: 7, width: 1347, height: 920 }, style: { fill: 'none', stroke: '#7a7a7a', lineWidth: 1.5 }, silent: true },
  txt(236, 32, 'A', { weight: 'bold', size: 19, align: 'center', color: '#111' }),
  txt(538, 32, 'B', { weight: 'bold', size: 19, align: 'center', color: '#111' }),
  txt(236, 328, 'C', { weight: 'bold', size: 19, align: 'center', color: '#111' }),
  // panel A
  txt(250, 130, 'Start cue', { rot: R, align: 'center' }),
  txt(289, 80, 'Go', { rot: R, align: 'center' }),
  txt(317, 80, 'tone', { rot: R, align: 'center' }),
  txt(289, 180, 'No-go', { rot: R, align: 'center' }),
  txt(317, 174, 'tone', { rot: R, align: 'center' }),
  txt(397, 33, 'Licks', {}),
  txt(367, 67, 'Hit', { color: '#3b3bf2' }),
  txt(462, 98, 'Miss', { color: '#e6198a' }),
  txt(411, 169, 'FA', { color: '#ee2222' }),
  txt(462, 200, 'CR', { color: '#29a9e1' }),
  txt(358, 233, 'Resp. window', { color: '#c8c8c8' }),
  txt(375, 295, 'Time (s)', { align: 'center' }),
  { type: 'line', shape: { x1: 359, y1: 41, x2: 394, y2: 26 }, style: { stroke: '#222', lineWidth: 1 }, silent: true },
  { type: 'line', shape: { x1: 373, y1: 41, x2: 396, y2: 26 }, style: { stroke: '#222', lineWidth: 1 }, silent: true },
  // panel B
  txt(683, 45, 'ChAT (n=9)', { align: 'center' }),
  txt(876, 45, 'GAD2 (n=9)', { align: 'center' }),
  txt(1058, 45, 'VGLUT2 (n=9)', { align: 'center' }),
  txt(540, 154, '{b|Hit rate} / {r|FA rate}', { rot: R, align: 'center',
    rich: { b: { fill: '#3b3bd6', fontSize: 22, fontFamily: FF }, r: { fill: '#ee2222', fontSize: 22, fontFamily: FF } } }),
  txt(869, 305, 'Days of training', { align: 'center' }),
  // panel C
  txt(341, 336, 'ChAT', { size: 21 }),
  txt(341, 483, 'GAD2', { size: 21 }),
  txt(341, 628, 'VGLUT2', { size: 21 }),
  txt(305, 780, '5 s', { align: 'center' }),
  txt(246, 735, '\u0394F/F (5%)', { rot: R, align: 'center' }),
  // caption
  txt(22, 837, '{b|FIGURE 3 | Go/no-go auditory discrimination task. (A)} Illustration of task structure. {b|(B)} Hit and False Alarm rates during 3 days of conditioning (Go tone only)',
    { size: 18, sx: 1.0, rich: capRich }),
  txt(22, 862, 'followed by 27 days of performing the discrimination task. Line and shading, mean \u00b1 SEM for all mice of each genotype. {b|(C)} Examples of neuronal activity in ChAT-,',
    { size: 18, sx: 1.0, rich: capRich }),
  txt(22, 887, 'GAD2-, and VGLUT2-Cre mice performing the discrimination task. Task events are denoted as in {b|(A)}.',
    { size: 18, sx: 1.0, rich: capRich })
];

fig.setOption({
  animation: false,
  backgroundColor: '#fff',
  grid: grids,
  xAxis: xAxes,
  yAxis: yAxes,
  series: series,
  graphic: { elements: graphics }
});
</script>
</body>
</html>
